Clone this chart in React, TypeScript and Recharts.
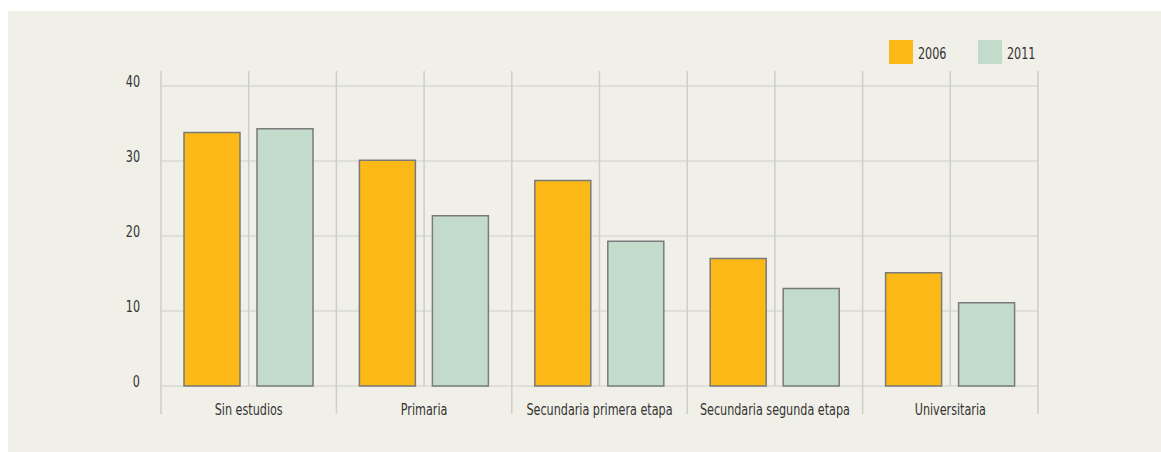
import React from 'react';
import { BarChart, Bar, XAxis, YAxis, CartesianGrid, Legend } from 'recharts';

const categories = [
  'Sin estudios',
  'Primaria',
  'Secundaria primera etapa',
  'Secundaria segunda etapa',
  'Universitaria',
];
const values2006 = [33.8, 30.1, 27.4, 17.0, 15.1];
const values2011 = [34.3, 22.7, 19.3, 13.0, 11.1];
const yTicks = [0, 10, 20, 30, 40];
const Y_MAX = 42;
// vertical grid at every half category (in category units)
const gridSteps = [0, 0.5, 1, 1.5, 2, 2.5, 3, 3.5, 4, 4.5, 5];

const data = categories.map((name, i) => ({
  name,
  y2006: values2006[i],
  y2011: values2011[i],
}));

const BG = '#f1f0e8';
const ORANGE = '#fbb817';
const GREEN = '#c2dbcb';
const GRID = '#cdcdcb';
const TEXT = '#333333';
const FONT = "'Liberation Sans Narrow', 'DejaVu Sans Condensed', 'Roboto', sans-serif";
const SQUEEZE = 0.83; // the original face is narrower than anything installed

const CategoryTick = ({ x, y, payload, index }: any) => {
  const half = payload?.offset ?? 87.7;
  const last = index === categories.length - 1;
  return (
    <g>
      <line x1={x - half} x2={x - half} y1={y} y2={y + 28} stroke={GRID} strokeWidth={1.5} />
      {last && (
        <line x1={x + half} x2={x + half} y1={y} y2={y + 28} stroke={GRID} strokeWidth={1.5} />
      )}
      <text
        transform={`translate(${x},${y + 29}) scale(${SQUEEZE},1)`}
        textAnchor="middle"
        fill={TEXT}
        fontSize={15}
        fontFamily={FONT}
      >
        {payload.value}
      </text>
    </g>
  );
};

const ValueTick = ({ x, y, payload }: any) => (
  <text
    transform={`translate(${x},${y + 1}) scale(${SQUEEZE},1)`}
    textAnchor="end"
    fill={TEXT}
    fontSize={15}
    fontFamily={FONT}
  >
    {payload.value}
  </text>
);

const LegendContent = ({ payload }: any) => (
  <div style={{ display: 'flex', alignItems: 'center', fontFamily: FONT, fontSize: 15, color: TEXT }}>
    {(payload || []).map((entry: any, index: number) => (
      <div key={index} style={{ display: 'flex', alignItems: 'center', width: 89 }}>
        <span style={{ width: 24, height: 24, background: entry.color, display: 'inline-block' }} />
        <span
          style={{
            marginLeft: 5,
            marginTop: 4,
            display: 'inline-block',
            transform: `scaleX(${SQUEEZE})`,
            transformOrigin: 'left center',
          }}
        >
          {entry.value}
        </span>
      </div>
    ))}
  </div>
);

export default function App() {
  return (
    <div style={{ marginLeft: 8, marginTop: 11, width: 1153, height: 441, background: BG }}>
      <style>{'body{margin:0;overflow:hidden}'}</style>
      <BarChart
        width={1153}
        height={441}
        data={data}
        margin={{ top: 60, right: 123, left: 0, bottom: 26 }}
        barSize={56}
        barGap={17}
      >
        <CartesianGrid
          horizontal={true}
          vertical={false}
          stroke={GRID}
          strokeWidth={1}
          horizontalCoordinatesGenerator={({ offset }: any) =>
            yTicks.map((t) => offset.top + offset.height * (1 - t / Y_MAX))
          }
        />
        <CartesianGrid
          horizontal={false}
          vertical={true}
          stroke={GRID}
          strokeWidth={1.5}
          verticalCoordinatesGenerator={({ offset }: any) =>
            gridSteps.map((s) => offset.left + (offset.width * s) / categories.length)
          }
        />
        <XAxis
          dataKey="name"
          interval={0}
          axisLine={false}
          tickLine={false}
          tickSize={0}
          tickMargin={0}
          height={40}
          tick={<CategoryTick />}
        />
        <YAxis
          domain={[0, Y_MAX]}
          ticks={yTicks}
          width={153}
          axisLine={false}
          tickLine={false}
          tickSize={6}
          tickMargin={15}
          tick={<ValueTick />}
        />
        <Legend
          layout="vertical"
          align="center"
          verticalAlign="middle"
          wrapperStyle={{ left: 881, top: 29, width: 'auto' }}
          content={<LegendContent />}
        />
        <Bar dataKey="y2006" name="2006" fill={ORANGE} stroke="#7a7a7a" strokeWidth={1.5} isAnimationActive={false} />
        <Bar dataKey="y2011" name="2011" fill={GREEN} stroke="#7a7a7a" strokeWidth={1.5} isAnimationActive={false} />
      </BarChart>
    </div>
  );
}
